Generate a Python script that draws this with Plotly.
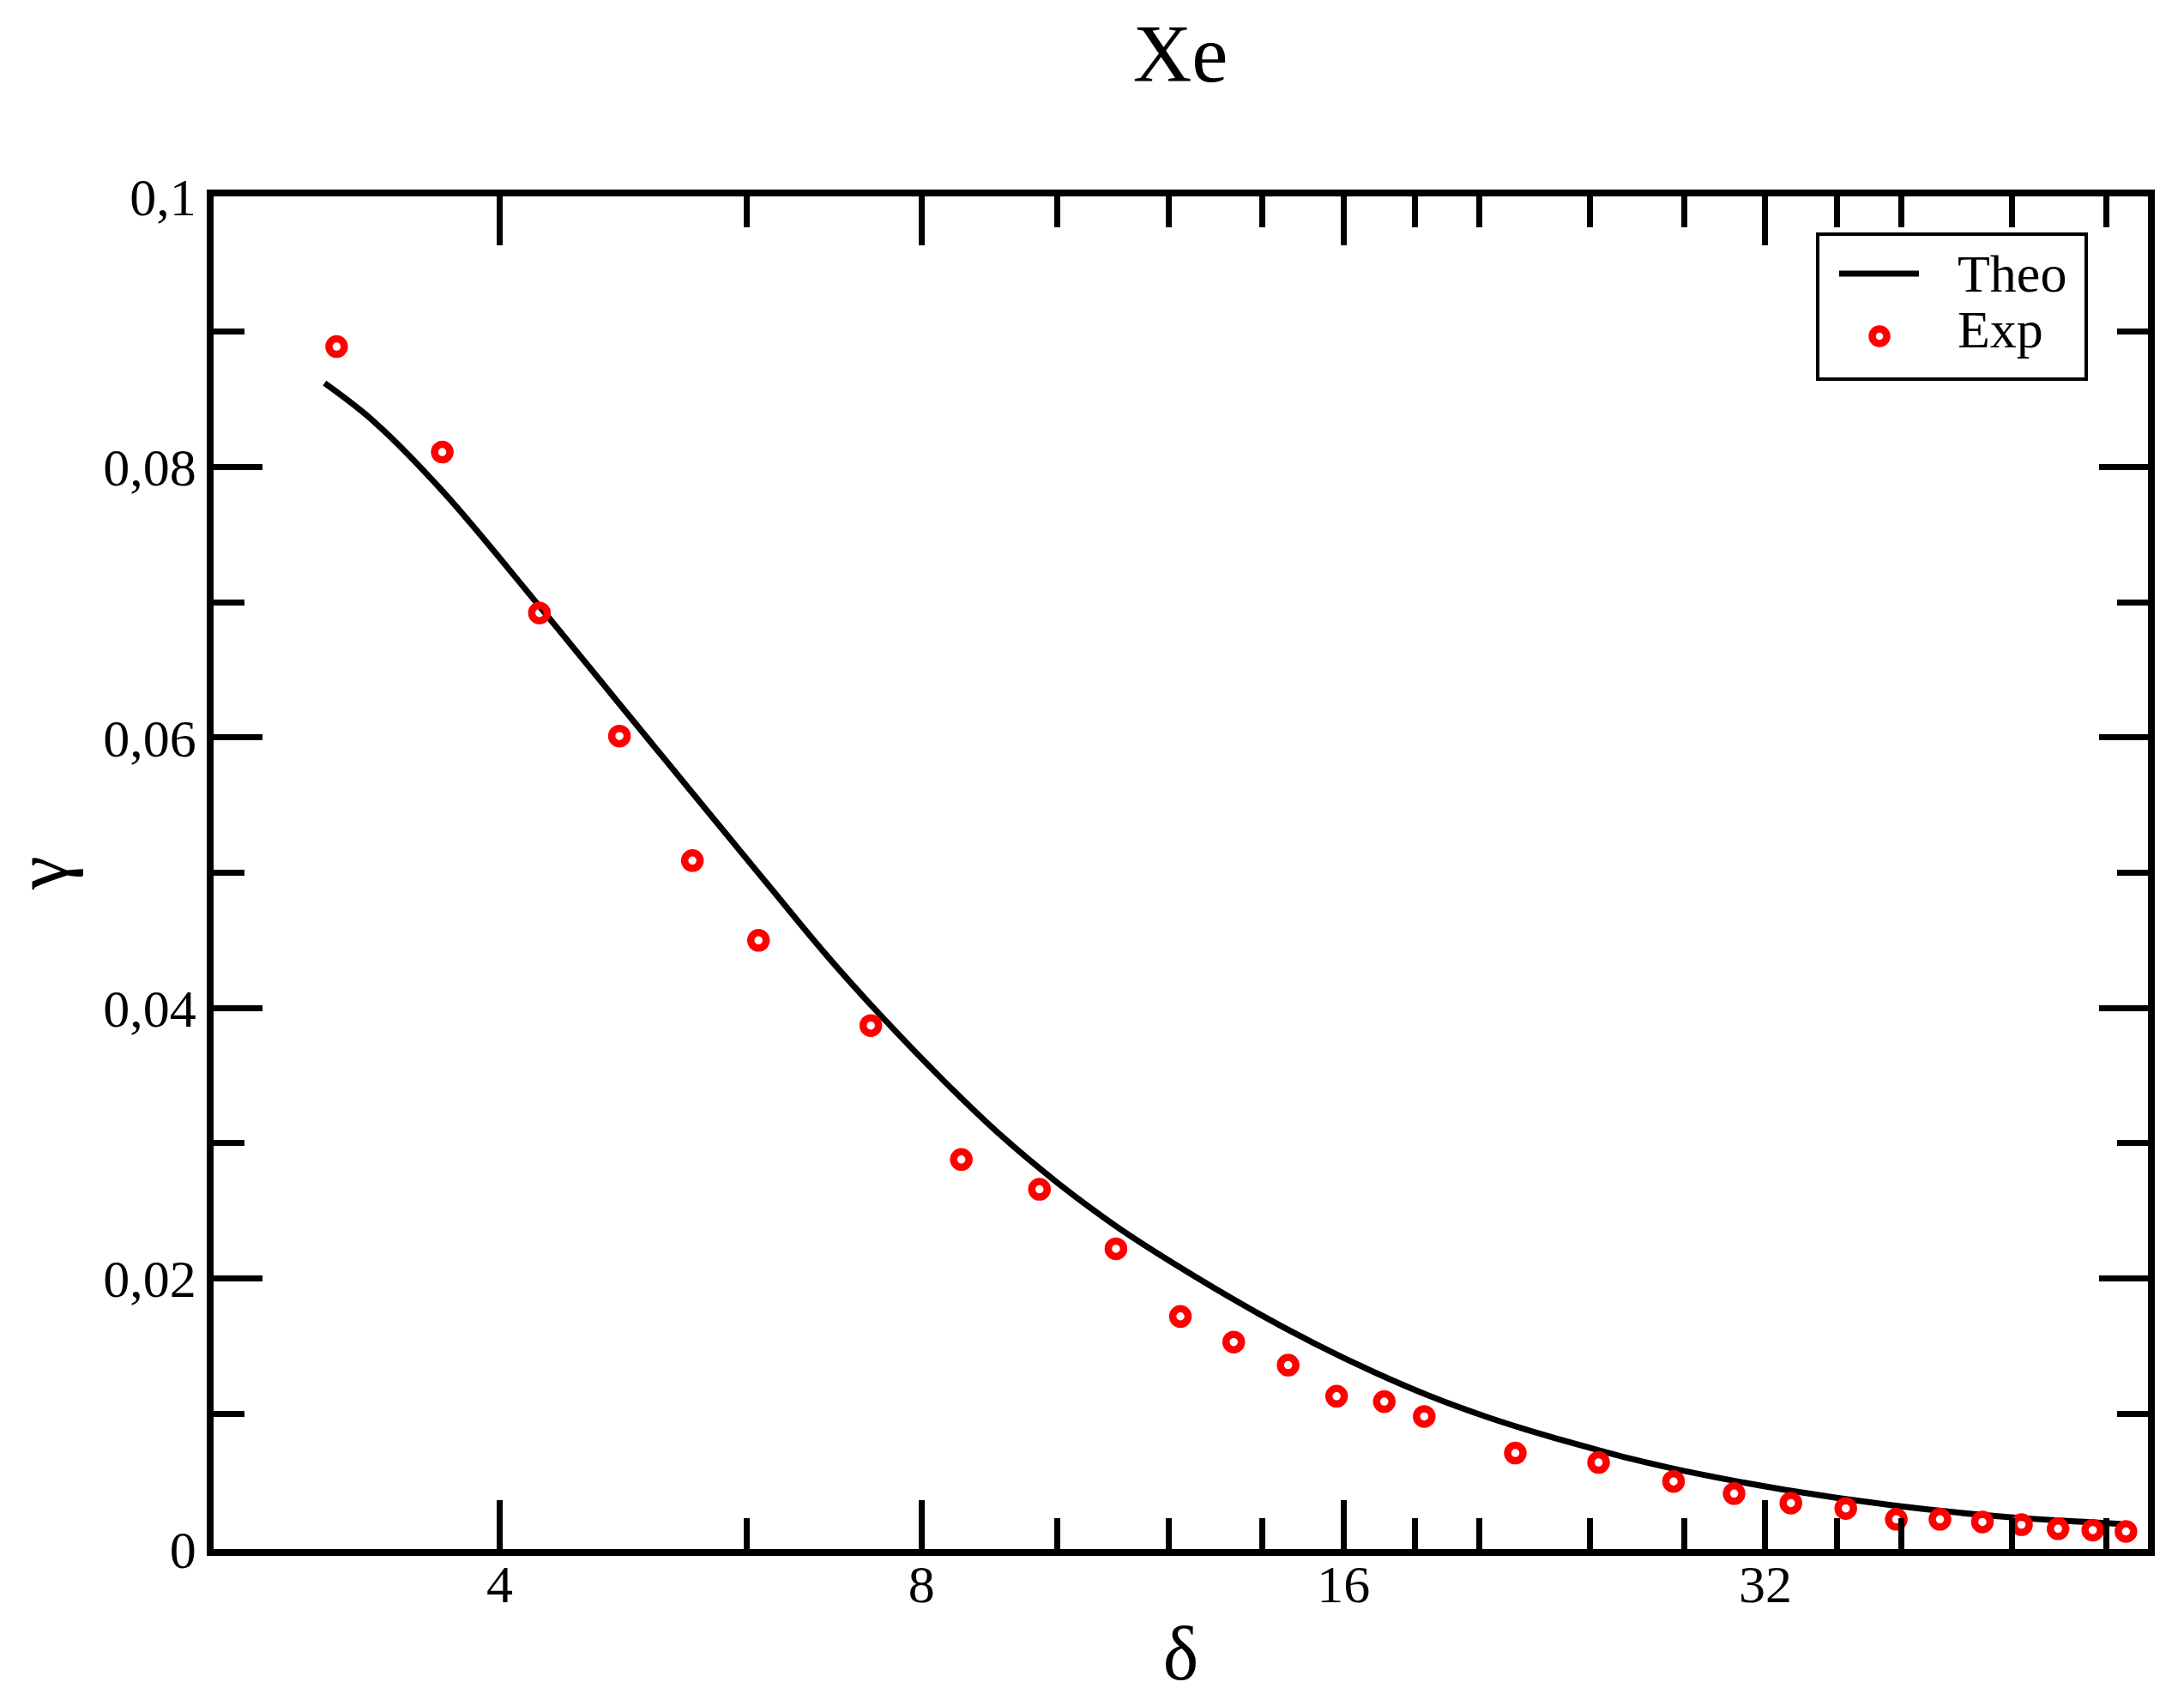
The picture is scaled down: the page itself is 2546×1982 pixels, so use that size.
import plotly.graph_objects as go

# ---- data ----
theo_x = [3.00, 3.25, 3.65, 4.27, 4.85, 5.50, 6.24, 6.87, 7.55, 8.30, 9.11, 10.01,
          11.00, 12.09, 13.92, 15.29, 16.80, 18.45, 20.27, 22.27, 24.46, 25.65,
          28.04, 33.06, 39.54, 47.30, 57.40]
theo_y = [0.0862, 0.0834, 0.0781, 0.0697, 0.0627, 0.0558, 0.0489, 0.0437, 0.0390,
          0.0346, 0.0306, 0.02705, 0.0239, 0.02115, 0.0174, 0.01515, 0.01311,
          0.0113, 0.00975, 0.00842, 0.00724, 0.00668, 0.00576, 0.00438, 0.00322,
          0.00239, 0.00186]

exp_x = [3.06, 3.64, 4.27, 4.87, 5.49, 6.12, 7.36, 8.54, 9.71, 11.01, 12.24, 13.36,
         14.61, 15.82, 17.11, 18.27, 21.22, 24.33, 27.52, 30.40, 33.37, 36.52,
         39.68, 42.63, 45.71, 48.74, 51.76, 54.80, 57.87]
exp_y = [0.0889, 0.0811, 0.0692, 0.0601, 0.0509, 0.0450, 0.0387, 0.0288, 0.0266,
         0.0222, 0.0172, 0.0153, 0.0136, 0.0113, 0.0109, 0.0098, 0.0071, 0.0064,
         0.0050, 0.0041, 0.0034, 0.0030, 0.0022, 0.0022, 0.0020, 0.0018, 0.0015,
         0.0014, 0.0013]

series_names = ["Theo", "Exp"]
x_tickvals = [4, 8, 16, 32]
x_ticktext = ["4", "8", "16", "32"]
x_minorvals = [6, 10, 12, 14, 18, 20, 24, 28, 36, 40, 48, 56]
y_tickvals = [0, 0.02, 0.04, 0.06, 0.08, 0.1]
y_ticktext = ["0", "0,02", "0,04", "0,06", "0,08", "0,1"]
y_minorvals = [0.01, 0.03, 0.05, 0.07, 0.09]

FONT = "Liberation Serif"
W, H = 2546, 1982
ML, MR, MT, MB = 249, 42, 229, 176
PW, PH = W - ML - MR, H - MT - MB


def px(xp):  # pixel x -> paper x (legend decoration only)
    return (xp - ML) / PW


def py(yp):  # pixel y -> paper y (legend decoration only)
    return (H - MB - yp) / PH


fig = go.Figure()
fig.add_trace(go.Scatter(x=theo_x, y=theo_y, mode="lines", name=series_names[0],
                         showlegend=False,
                         line=dict(color="black", width=7, shape="spline",
                                   smoothing=1.0)))
fig.add_trace(go.Scatter(x=exp_x, y=exp_y, mode="markers", name=series_names[1],
                         showlegend=False,
                         marker=dict(symbol="circle-open", size=18, color="#ff0000",
                                     line=dict(width=8.5, color="#ff0000"))))

axis_common = dict(showline=True, linecolor="black", linewidth=7.5, mirror="allticks",
                   ticks="inside", ticklen=57, tickwidth=6.5, tickcolor="black",
                   showgrid=False, zeroline=False,
                   tickfont=dict(family=FONT, size=62, color="black"))

fig.update_xaxes(type="log", range=[0.39794, 1.77815],
                 tickmode="array", tickvals=x_tickvals, ticktext=x_ticktext,
                 ticklabelstandoff=-20,
                 minor=dict(tickmode="array", tickvals=x_minorvals, ticks="inside",
                            ticklen=36, tickwidth=6.5, tickcolor="black", showgrid=False),
                 title=dict(text="δ", font=dict(family=FONT, size=88, color="black"),
                            standoff=19),
                 **axis_common)
fig.update_yaxes(range=[0, 0.1],
                 tickmode="array", tickvals=y_tickvals, ticktext=y_ticktext,
                 minor=dict(tickmode="array", tickvals=y_minorvals, ticks="inside",
                            ticklen=36, tickwidth=6.5, tickcolor="black", showgrid=False),
                 title=dict(text="γ", font=dict(family=FONT, size=88, color="black"),
                            standoff=26),
                 **axis_common)

# legend box drawn as decoration (xmgrace-style legend)
shapes = [
    dict(type="rect", xref="paper", yref="paper",
         x0=px(2119), x1=px(2432), y0=py(442), y1=py(273),
         line=dict(color="black", width=4), fillcolor="white", layer="above"),
    dict(type="line", xref="paper", yref="paper",
         x0=px(2144), x1=px(2237), y0=py(319), y1=py(319),
         line=dict(color="black", width=7), layer="above"),
    dict(type="circle", xref="paper", yref="paper",
         x0=px(2191 - 8.5), x1=px(2191 + 8.5), y0=py(392 + 8.5), y1=py(392 - 8.5),
         line=dict(color="#ff0000", width=8.5), layer="above"),
]
annotations = [
    dict(text=series_names[0], xref="paper", yref="paper", x=px(2280), y=py(319),
         xanchor="left", yanchor="middle", showarrow=False,
         font=dict(family=FONT, size=62, color="black")),
    dict(text=series_names[1], xref="paper", yref="paper", x=px(2280), y=py(384),
         xanchor="left", yanchor="middle", showarrow=False,
         font=dict(family=FONT, size=62, color="black")),
]

fig.update_layout(
    width=W, height=H,
    margin=dict(l=ML, r=MR, t=MT, b=MB, autoexpand=False),
    paper_bgcolor="white", plot_bgcolor="white",
    title=dict(text="Xe", font=dict(family=FONT, size=95, color="black"),
               x=0.5405, xanchor="center", yref="container", y=1 - 62 / 1982,
               yanchor="middle"),
    showlegend=False,
    shapes=shapes,
    annotations=annotations,
)

fig.write_html("out.html", config={"displayModeBar": False},
               post_script="document.body.style.margin='0';")
